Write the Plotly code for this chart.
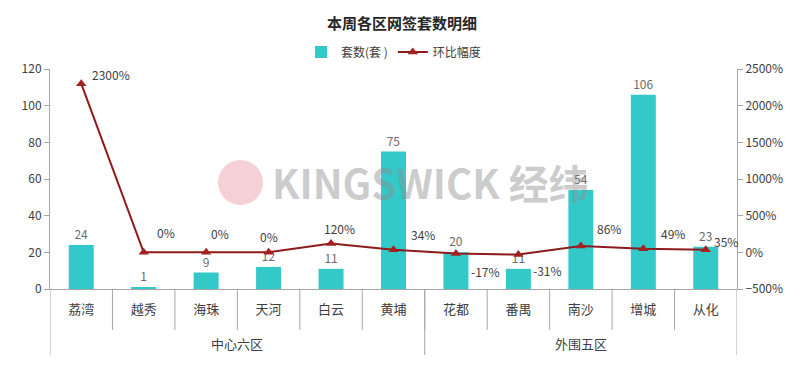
import plotly.graph_objects as go

districts = ["荔湾", "越秀", "海珠", "天河", "白云", "黄埔", "花都", "番禺", "南沙", "增城", "从化"]
group_names = ["中心六区", "外围五区"]
group_sizes = [6, 5]
units = [24, 1, 9, 12, 11, 75, 20, 11, 54, 106, 23]
change_pct = [2300, 0, 0, 0, 120, 34, -17, -31, 86, 49, 35]

# label offsets (px) for the change labels, as placed in the reference
label_dx = [30, 22, 14, 0, 8, 29, 30, 29, 28, 30, 20]
label_dy = [9, 20, 19, 16, 15, 15, -18, -16, 18, 15, 8]

FONT = "Noto Sans CJK SC, Microsoft YaHei, sans-serif"
TEAL = "#33C9C9"
RED = "#8E1B1B"
AX = "#A6A6A6"
PLOT_H = 220

fig = go.Figure()
fig.add_trace(go.Bar(
    x=districts, y=units, name="套数(套 )",
    marker=dict(color=TEAL, line=dict(width=0)),
    width=0.4,
    text=[str(v) for v in units], textposition="outside",
    textfont=dict(color="#6b6b6b", size=12, family=FONT),
    cliponaxis=False,
))
fig.add_trace(go.Scatter(
    x=districts, y=change_pct, name="环比幅度", yaxis="y2",
    mode="lines+markers",
    line=dict(color=RED, width=2),
    marker=dict(symbol="triangle-up", size=9, color="#A52020"),
    cliponaxis=False,
))
for d, v, dx, dy in zip(districts, change_pct, label_dx, label_dy):
    fig.add_annotation(text=f"{v}%", xref="x", yref="y2", x=d, y=v, xshift=dx, yshift=dy,
                       showarrow=False, font=dict(color="#404040", size=12, family=FONT))

fig.update_layout(
    width=804, height=366,
    margin=dict(l=50, r=67, t=69, b=77, autoexpand=False),
    paper_bgcolor="white", plot_bgcolor="white",
    font=dict(family=FONT, size=12, color="#595959"),
    title=dict(text="<b>本周各区网签套数明细</b>", x=0.5, xanchor="center", y=0.935, yanchor="middle",
               font=dict(size=15, color="#262626", family=FONT)),
    legend=dict(orientation="h", x=0.5, xanchor="center", y=1.077, yanchor="middle",
                font=dict(size=12, color="#404040"), bgcolor="rgba(0,0,0,0)"),
    showlegend=True,
    xaxis=dict(type="category", showline=True, linecolor=AX, linewidth=1, ticks="",
               tickfont=dict(size=13, color="#404040"), showgrid=False, automargin=False,
               range=[-0.5, len(districts) - 0.5], ticklabelstandoff=8),
    yaxis=dict(range=[0, 120], dtick=20, showgrid=False, zeroline=False, automargin=False,
               showline=True, linecolor=AX, ticks="outside", ticklen=5, tickcolor=AX,
               tickfont=dict(size=12, color="#404040")),
    yaxis2=dict(range=[-500, 2500], dtick=500, overlaying="y", side="right", showgrid=False,
                zeroline=False, showline=True, linecolor=AX, ticks="outside", ticklen=5,
                tickcolor=AX, ticksuffix="%", tickfont=dict(size=12, color="#404040"),
                automargin=False),
)

# category separators
for i in range(1, len(districts)):
    fig.add_shape(type="line", xref="x", yref="paper", x0=i - 0.5, x1=i - 0.5,
                  y0=0, y1=-41 / PLOT_H, line=dict(color=AX, width=1))
# group separators and labels
start = 0
bounds = [-0.5]
for name, size in zip(group_names, group_sizes):
    end = start + size
    bounds.append(end - 0.5)
    fig.add_annotation(text=name, xref="x", yref="paper", x=(start + end - 1) / 2,
                       y=-(343 - 289) / PLOT_H, showarrow=False, yanchor="middle",
                       font=dict(size=13, color="#404040", family=FONT))
    start = end
for b in bounds:
    fig.add_shape(type="line", xref="x", yref="paper", x0=b, x1=b,
                  y0=0, y1=-66 / PLOT_H, line=dict(color=AX, width=1))

# watermark
fig.add_shape(type="circle", xref="paper", yref="paper",
              x0=(218 - 50) / 687, x1=(263 - 50) / 687,
              y0=(289 - 205) / PLOT_H, y1=(289 - 160) / PLOT_H,
              fillcolor="rgba(230,120,140,0.35)", line=dict(width=0), layer="above")
fig.add_annotation(text="<b>KINGSWICK 经纬</b>", xref="paper", yref="paper",
                   x=(430 - 50) / 687, y=(289 - 182) / PLOT_H, showarrow=False,
                   font=dict(size=40, color="rgba(140,140,140,0.45)", family=FONT))

fig.write_html("out.html", config={"displayModeBar": False},
               post_script="document.body.style.margin='0';")
